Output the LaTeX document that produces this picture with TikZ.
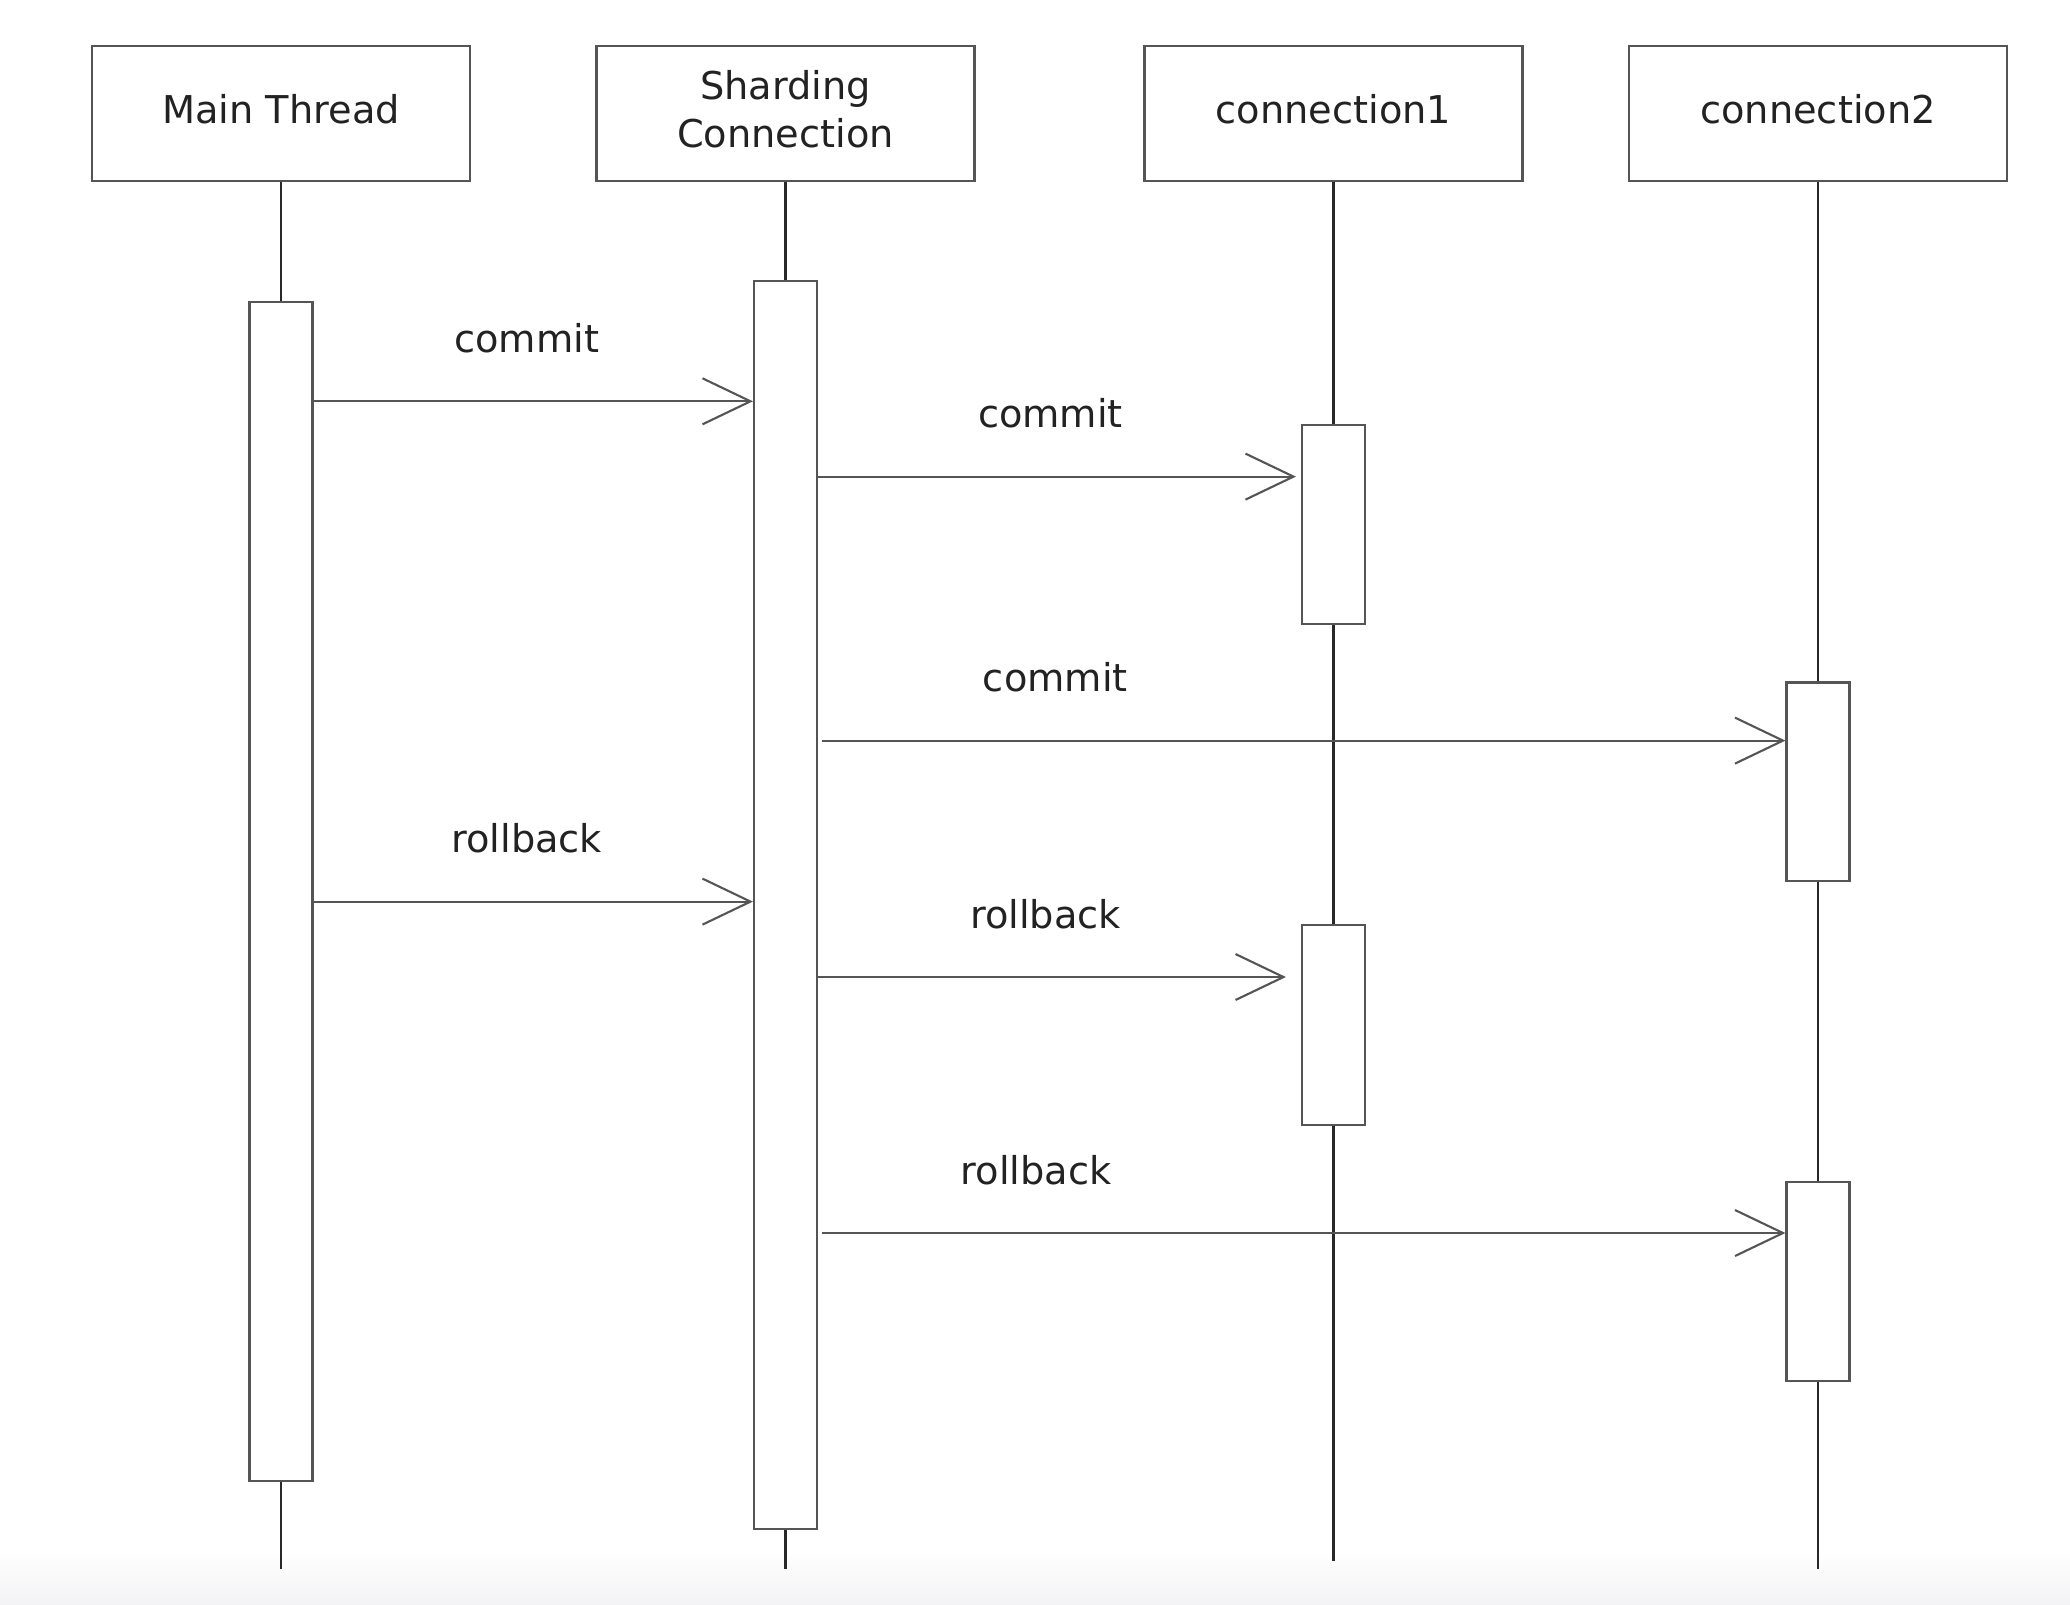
\documentclass[tikz,border=0pt]{standalone}
\usepackage{fontspec}
\setmainfont{DejaVu Sans}
\usetikzlibrary{arrows.meta}

\definecolor{boxgray}{RGB}{85,85,85}
\definecolor{linegray}{RGB}{40,40,40}
\definecolor{txtgray}{RGB}{34,34,34}
\definecolor{bandgray}{RGB}{243,243,245}

\begin{document}
\begin{tikzpicture}[
    head/.style={draw=boxgray, line width=0.6pt, fill=white, minimum width=3.78cm,
        minimum height=1.35cm},
    htxt/.style={align=center, text=txtgray, yshift=0.45mm,
        font=\fontsize{10.9}{13.5}\selectfont},
    actbar/.style={draw=boxgray, line width=0.6pt, fill=white, minimum width=0.63cm,
        inner sep=0pt},
    life/.style={draw=linegray, line width=0.65pt},
    msg/.style={draw=boxgray, line width=0.6pt, -{Straight Barb[length=4.8mm,width=4.6mm]}},
    lbl/.style={anchor=base, yshift=4.9mm, xshift=-0.66mm, text=txtgray,
        font=\fontsize{10.9}{13}\selectfont}
    ]
    \useasboundingbox (0,0) rectangle (20.70,-16.04);
    \shade[top color=white, bottom color=bandgray] (0,-15.50) rectangle (20.70,-16.04);

    % lifeline heads
    \node[head, label={[htxt]center:Main Thread}] (main) at (2.81,-1.135) {};
    \node[head, label={[htxt]center:Sharding\\Connection}] (shard) at (7.855,-1.135) {};
    \node[head, label={[htxt]center:connection1}] (conn1) at (13.335,-1.135) {};
    \node[head, label={[htxt]center:connection2}] (conn2) at (18.18,-1.135) {};

    \coordinate (mainEnd) at (2.81,-15.69);
    \coordinate (shardEnd) at (7.855,-15.69);
    \coordinate (conn1End) at (13.335,-15.61);
    \coordinate (conn2End) at (18.18,-15.69);

    \draw[life] (main.south) -- (mainEnd);
    \draw[life] (shard.south) -- (shardEnd);
    \draw[life] (conn1.south) -- (conn1End);
    \draw[life] (conn2.south) -- (conn2End);

    % activations
    \node[actbar, minimum height=11.79cm] (mainA) at (2.81,-8.918) {};
    \node[actbar, minimum height=12.475cm] (shardA) at (7.855,-9.050) {};
    \node[actbar, minimum height=1.994cm] (conn1A) at (13.335,-5.247) {};
    \node[actbar, minimum height=1.981cm] (conn2A) at (18.18,-7.815) {};
    \node[actbar, minimum height=1.994cm] (conn1B) at (13.335,-10.251) {};
    \node[actbar, minimum height=1.993cm] (conn2B) at (18.18,-12.813) {};

    % messages
    \draw[msg] (mainA.east |- 0,-4.013) -- node[lbl] {commit} (shardA.west |- 0,-4.013);
    \draw[msg] (shardA.east |- 0,-4.766) -- node[lbl] {commit} ([xshift=-0.05cm]conn1A.west |- 0,-4.766);
    \draw[msg] ([xshift=0.04cm]shardA.east |- 0,-7.406) -- node[lbl, pos=0.249] {commit} (conn2A.west |- 0,-7.406);
    \draw[msg] (mainA.east |- 0,-9.016) -- node[lbl] {rollback} (shardA.west |- 0,-9.016);
    \draw[msg] (shardA.east |- 0,-9.77) -- node[lbl] {rollback} ([xshift=-0.15cm]conn1B.west |- 0,-9.77);
    \draw[msg] ([xshift=0.04cm]shardA.east |- 0,-12.33) -- node[lbl, pos=0.229] {rollback} (conn2B.west |- 0,-12.33);
\end{tikzpicture}
\end{document}
